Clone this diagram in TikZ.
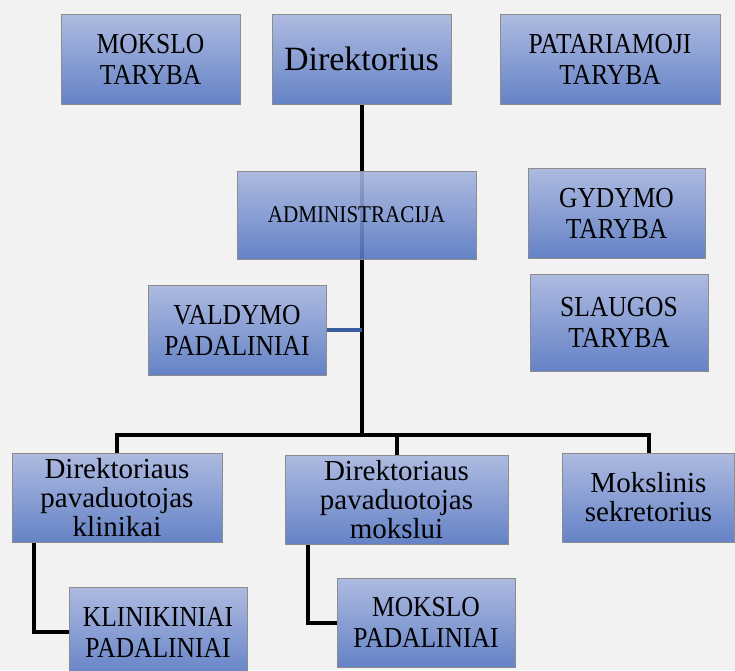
\documentclass[tikz,border=0pt]{standalone}
\usepackage{fontspec}
\setmainfont{Liberation Serif}
\newfontfamily\capsfont[FakeStretch=0.88]{Liberation Serif}
\usetikzlibrary{positioning}

\definecolor{boxtop}{HTML}{A7B5DF}
\definecolor{boxbot}{HTML}{5677C2}
\definecolor{boxline}{HTML}{8C8C8C}
\definecolor{pagebg}{HTML}{F2F2F2}
\definecolor{linkblue}{HTML}{3A5E9E}

\begin{document}
\begin{tikzpicture}[x=1pt,y=-1pt,
    unit/.style={draw=boxline, line width=1pt, top color=boxtop, bottom color=boxbot,
      fill opacity=0.9, text opacity=1, align=center, inner sep=2pt,
      font=\capsfont\fontsize{29}{31}\selectfont},
    lowunit/.style={unit, font=\fontsize{29}{29}\selectfont},
    link/.style={line width=4pt},
    sidelink/.style={draw=linkblue, line width=3.5pt}]
                      % Background
                      \fill[pagebg] (0,0) rectangle (735,670);
                      \clip (0,0) rectangle (735,670);
                      \useasboundingbox (0,0) rectangle (735,670);

                  % Trunk
                  \coordinate (bus) at (362,435);
                  \coordinate (top) at (362,104);
                  \draw[link] (top) -- (bus);

                      % Top row
                      \node[unit, minimum width=179pt, minimum height=90pt] (mokslotaryba) at (150.5,59) {MOKSLO\\TARYBA};
                      \node[unit, minimum width=179pt, minimum height=90pt, font=\fontsize{34}{36}\selectfont] (direktorius) at (361.5,59) {Direktorius};
                      \node[unit, minimum width=220pt, minimum height=90pt] (patariamoji) at (610,59) {PATARIAMOJI\\TARYBA};

                      % Middle
                      \node[unit, minimum width=239pt, minimum height=88pt, font=\capsfont\fontsize{24}{26}\selectfont] (administracija) at (356.5,215) {ADMINISTRACIJA};
                      \node[unit, minimum width=177pt, minimum height=90pt] (gydymo) at (616.5,213) {GYDYMO\\TARYBA};
                      \node[unit, minimum width=178pt, minimum height=97pt] (slaugos) at (619,322.5) {SLAUGOS\\TARYBA};
                      \node[unit, minimum width=178pt, minimum height=90pt] (valdymo) at (237,330) {VALDYMO\\PADALINIAI};

                      % Deputies
                      \node[lowunit, minimum width=210pt, minimum height=89pt] (klinikai) at (117,497.5) {Direktoriaus\\pavaduotojas\\klinikai};
                      \node[lowunit, minimum width=223pt, minimum height=89pt] (mokslui) at (396.5,499.5) {Direktoriaus\\pavaduotojas\\mokslui};
                      \node[lowunit, minimum width=172pt, minimum height=89pt] (sekretorius) at (648.5,497.5) {Mokslinis\\sekretorius};

                      % Units
                      \node[unit, minimum width=178pt, minimum height=90pt] (klinikiniai) at (158,632) {KLINIKINIAI\\PADALINIAI};
                      \node[unit, minimum width=178pt, minimum height=89pt] (mokslopad) at (426,622.5) {MOKSLO\\PADALINIAI};

                  % Connectors
                  \draw[sidelink] (valdymo.east) -- (valdymo.east -| bus);
                  \draw[link] (klinikai.north) |- (bus) -| (sekretorius.north);
                  \draw[link] (mokslui.north) -- (mokslui.north |- bus);
                  \draw[link] (klinikiniai.west) -| ([xshift=22pt]klinikai.south west);
                  \draw[link] (mokslopad.west) -| ([xshift=23pt]mokslui.south west);
                    \end{tikzpicture}
\end{document}
